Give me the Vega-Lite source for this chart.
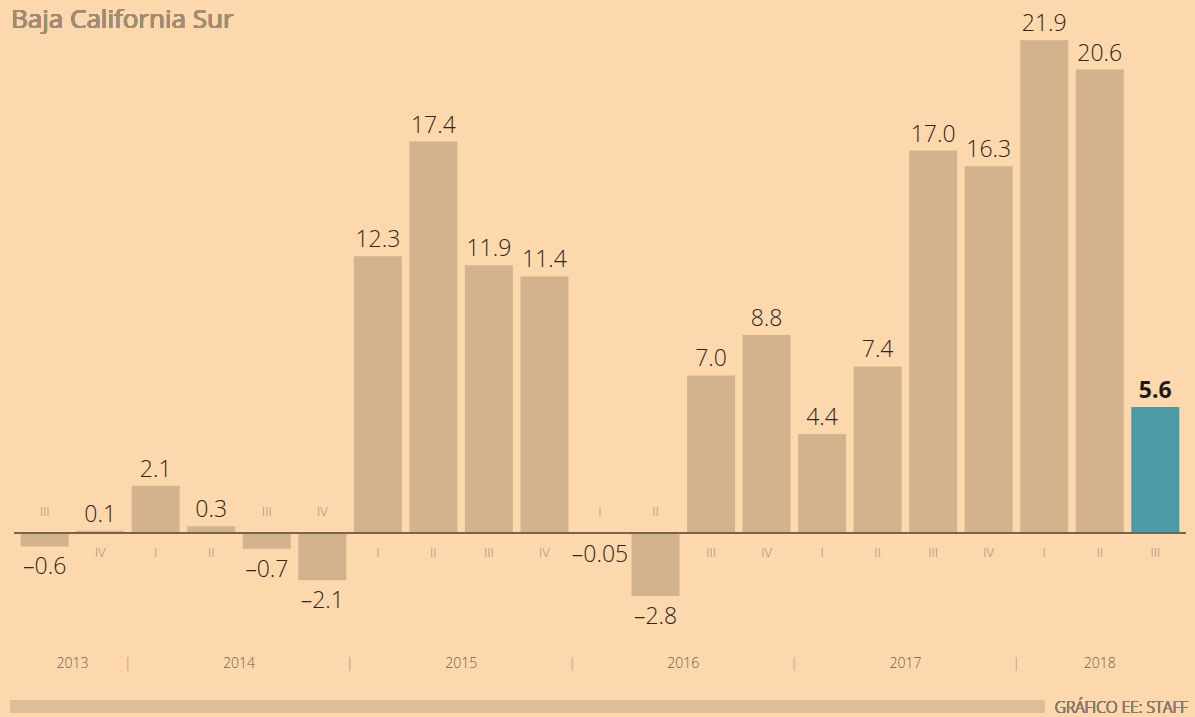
{
  "$schema": "https://vega.github.io/schema/vega-lite/v6.json",
  "width": 1195,
  "height": 717,
  "autosize": "none",
  "padding": 0,
  "background": "#FCD8AC",
  "config": {"view": {"stroke": null}, "text": {"font": "Open Sans", "fontWeight": 300}},
  "data": {
    "values": [
      {"periodo": "2013 III", "anio": 2013, "trim": "III", "i": 0, "valor": -0.6, "etiqueta": "–0.6"},
      {"periodo": "2013 IV", "anio": 2013, "trim": "IV", "i": 1, "valor": 0.1, "etiqueta": "0.1"},
      {"periodo": "2014 I", "anio": 2014, "trim": "I", "i": 2, "valor": 2.1, "etiqueta": "2.1"},
      {"periodo": "2014 II", "anio": 2014, "trim": "II", "i": 3, "valor": 0.3, "etiqueta": "0.3"},
      {"periodo": "2014 III", "anio": 2014, "trim": "III", "i": 4, "valor": -0.7, "etiqueta": "–0.7"},
      {"periodo": "2014 IV", "anio": 2014, "trim": "IV", "i": 5, "valor": -2.1, "etiqueta": "–2.1"},
      {"periodo": "2015 I", "anio": 2015, "trim": "I", "i": 6, "valor": 12.3, "etiqueta": "12.3"},
      {"periodo": "2015 II", "anio": 2015, "trim": "II", "i": 7, "valor": 17.4, "etiqueta": "17.4"},
      {"periodo": "2015 III", "anio": 2015, "trim": "III", "i": 8, "valor": 11.9, "etiqueta": "11.9"},
      {"periodo": "2015 IV", "anio": 2015, "trim": "IV", "i": 9, "valor": 11.4, "etiqueta": "11.4"},
      {"periodo": "2016 I", "anio": 2016, "trim": "I", "i": 10, "valor": -0.05, "etiqueta": "–0.05"},
      {"periodo": "2016 II", "anio": 2016, "trim": "II", "i": 11, "valor": -2.8, "etiqueta": "–2.8"},
      {"periodo": "2016 III", "anio": 2016, "trim": "III", "i": 12, "valor": 7.0, "etiqueta": "7.0"},
      {"periodo": "2016 IV", "anio": 2016, "trim": "IV", "i": 13, "valor": 8.8, "etiqueta": "8.8"},
      {"periodo": "2017 I", "anio": 2017, "trim": "I", "i": 14, "valor": 4.4, "etiqueta": "4.4"},
      {"periodo": "2017 II", "anio": 2017, "trim": "II", "i": 15, "valor": 7.4, "etiqueta": "7.4"},
      {"periodo": "2017 III", "anio": 2017, "trim": "III", "i": 16, "valor": 17.0, "etiqueta": "17.0"},
      {"periodo": "2017 IV", "anio": 2017, "trim": "IV", "i": 17, "valor": 16.3, "etiqueta": "16.3"},
      {"periodo": "2018 I", "anio": 2018, "trim": "I", "i": 18, "valor": 21.9, "etiqueta": "21.9"},
      {"periodo": "2018 II", "anio": 2018, "trim": "II", "i": 19, "valor": 20.6, "etiqueta": "20.6"},
      {"periodo": "2018 III", "anio": 2018, "trim": "III", "i": 20, "valor": 5.6, "etiqueta": "5.6"}
    ]
  },
  "layer": [
    {
      "mark": {"type": "rect", "color": "#DEBE96"},
      "encoding": {
        "x": {"datum": -0.62, "type": "quantitative", "scale": {"domain": [-0.714, 20.625], "nice": false, "zero": false}, "axis": null},
        "x2": {"datum": 18.0},
        "y": {"datum": -7.42, "type": "quantitative", "scale": {"domain": [-8.178, 23.689], "nice": false, "zero": false}, "axis": null},
        "y2": {"datum": -8.0}
      }
    },
    {
      "mark": {"type": "bar", "size": 48},
      "encoding": {
        "x": {"field": "i", "type": "quantitative", "scale": {"domain": [-0.714, 20.625], "nice": false, "zero": false}, "axis": null},
        "y": {"field": "valor", "type": "quantitative", "scale": {"domain": [-8.178, 23.689], "nice": false, "zero": false}, "axis": null},
        "y2": {"datum": 0},
        "color": {"condition": {"test": "datum.periodo === '2018 III'", "value": "#4A9BA5"}, "value": "#D3B28E"}
      }
    },
    {
      "mark": {"type": "rule", "color": "#7A6350", "strokeWidth": 1.5},
      "encoding": {
        "x": {"datum": -0.55, "type": "quantitative", "scale": {"domain": [-0.714, 20.625], "nice": false, "zero": false}, "axis": null},
        "x2": {"datum": 20.55},
        "y": {"datum": 0, "type": "quantitative", "scale": {"domain": [-8.178, 23.689], "nice": false, "zero": false}, "axis": null}
      }
    },
    {
      "transform": [{"filter": "datum.valor >= 0 && datum.periodo !== '2018 III'"}],
      "mark": {"type": "text", "fontSize": 23, "baseline": "alphabetic", "dy": -9, "color": "#2E2620", "letterSpacing": -1},
      "encoding": {
        "x": {"field": "i", "type": "quantitative", "scale": {"domain": [-0.714, 20.625], "nice": false, "zero": false}, "axis": null},
        "y": {"field": "valor", "type": "quantitative", "scale": {"domain": [-8.178, 23.689], "nice": false, "zero": false}, "axis": null},
        "text": {"field": "etiqueta"}
      }
    },
    {
      "transform": [{"filter": "datum.periodo === '2018 III'"}],
      "mark": {"type": "text", "fontSize": 23, "fontWeight": "bold", "baseline": "alphabetic", "dy": -9, "color": "#1E1A16", "letterSpacing": -1},
      "encoding": {
        "x": {"field": "i", "type": "quantitative", "scale": {"domain": [-0.714, 20.625], "nice": false, "zero": false}, "axis": null},
        "y": {"field": "valor", "type": "quantitative", "scale": {"domain": [-8.178, 23.689], "nice": false, "zero": false}, "axis": null},
        "text": {"field": "etiqueta"}
      }
    },
    {
      "transform": [{"filter": "datum.valor < 0"}],
      "mark": {"type": "text", "fontSize": 23, "baseline": "top", "dy": 10, "color": "#2E2620", "letterSpacing": -1},
      "encoding": {
        "x": {"field": "i", "type": "quantitative", "scale": {"domain": [-0.714, 20.625], "nice": false, "zero": false}, "axis": null},
        "y": {"field": "valor", "type": "quantitative", "scale": {"domain": [-8.178, 23.689], "nice": false, "zero": false}, "axis": null},
        "text": {"field": "etiqueta"}
      }
    },
    {
      "transform": [{"filter": "datum.valor > 0"}],
      "mark": {"type": "text", "fontSize": 13, "baseline": "middle", "dy": 20, "color": "#9B8B7A"},
      "encoding": {
        "x": {"field": "i", "type": "quantitative", "scale": {"domain": [-0.714, 20.625], "nice": false, "zero": false}, "axis": null},
        "y": {"datum": 0, "type": "quantitative", "scale": {"domain": [-8.178, 23.689], "nice": false, "zero": false}, "axis": null},
        "text": {"field": "trim"}
      }
    },
    {
      "transform": [{"filter": "datum.valor <= 0"}],
      "mark": {"type": "text", "fontSize": 13, "baseline": "middle", "dy": -21, "color": "#9B8B7A"},
      "encoding": {
        "x": {"field": "i", "type": "quantitative", "scale": {"domain": [-0.714, 20.625], "nice": false, "zero": false}, "axis": null},
        "y": {"datum": 0, "type": "quantitative", "scale": {"domain": [-8.178, 23.689], "nice": false, "zero": false}, "axis": null},
        "text": {"field": "trim"}
      }
    },
    {
      "transform": [{"aggregate": [{"op": "mean", "field": "i", "as": "centro"}], "groupby": ["anio"]}],
      "mark": {"type": "text", "fontSize": 14, "baseline": "middle", "color": "#6E5E50", "letterSpacing": -0.5},
      "encoding": {
        "x": {"field": "centro", "type": "quantitative", "scale": {"domain": [-0.714, 20.625], "nice": false, "zero": false}, "axis": null},
        "y": {"datum": -5.82, "type": "quantitative", "scale": {"domain": [-8.178, 23.689], "nice": false, "zero": false}, "axis": null},
        "text": {"field": "anio", "type": "nominal"}
      }
    },
    {
      "transform": [
        {"aggregate": [{"op": "min", "field": "i", "as": "inicio"}], "groupby": ["anio"]},
        {"filter": "datum.anio > 2013"}
      ],
      "mark": {"type": "text", "fontSize": 14, "baseline": "middle", "dx": -28, "color": "#9B8B7A", "text": "|"},
      "encoding": {
        "x": {"field": "inicio", "type": "quantitative", "scale": {"domain": [-0.714, 20.625], "nice": false, "zero": false}, "axis": null},
        "y": {"datum": -5.82, "type": "quantitative", "scale": {"domain": [-8.178, 23.689], "nice": false, "zero": false}, "axis": null}
      }
    },
    {
      "mark": {"type": "text", "fontSize": 26, "fontWeight": 400, "align": "left", "baseline": "alphabetic", "dx": 6, "dy": 28, "color": "#A08C73", "letterSpacing": -0.3, "text": "Baja California Sur"},
      "encoding": {
        "x": {"datum": -0.714, "type": "quantitative", "scale": {"domain": [-0.714, 20.625], "nice": false, "zero": false}, "axis": null},
        "y": {"datum": 23.689, "type": "quantitative", "scale": {"domain": [-8.178, 23.689], "nice": false, "zero": false}, "axis": null}
      }
    },
    {
      "mark": {"type": "text", "fontSize": 15.5, "align": "right", "baseline": "alphabetic", "dx": -2, "color": "#8A7A6A", "text": "GRÁFICO EE: STAFF"},
      "encoding": {
        "x": {"datum": 20.625, "type": "quantitative", "scale": {"domain": [-0.714, 20.625], "nice": false, "zero": false}, "axis": null},
        "y": {"datum": -8.0, "type": "quantitative", "scale": {"domain": [-8.178, 23.689], "nice": false, "zero": false}, "axis": null}
      }
    }
  ]
}
